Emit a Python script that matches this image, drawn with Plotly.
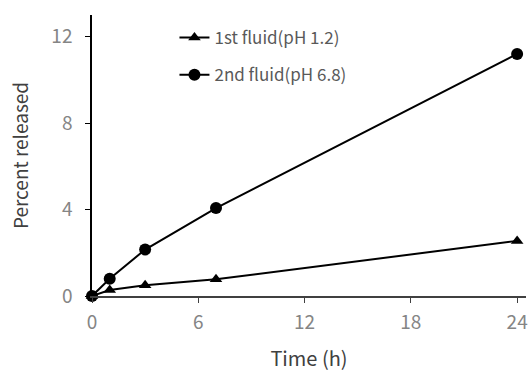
import plotly.graph_objects as go

time_h = [0, 1, 3, 7, 24]
fluid1 = [0, 0.28, 0.5, 0.77, 2.55]
fluid2 = [0, 0.8, 2.15, 4.07, 11.2]
x_ticks = [0, 6, 12, 18, 24]
y_ticks = [0, 4, 8, 12]

FONT = "Noto Sans CJK JP"

fig = go.Figure()
fig.add_trace(go.Scatter(
    x=time_h, y=fluid1, mode="lines+markers", name="1st fluid(pH 1.2)",
    legendgroup="a",
    line=dict(color="black", width=2),
    marker=dict(symbol="triangle-up", size=11, color="black"),
    cliponaxis=False,
))
fig.add_trace(go.Scatter(
    x=time_h, y=fluid2, mode="lines+markers", name="2nd fluid(pH 6.8)",
    legendgroup="b",
    line=dict(color="black", width=2),
    marker=dict(symbol="circle", size=12, color="black"),
    cliponaxis=False,
))

fig.update_layout(
    width=529, height=372,
    margin=dict(l=92, r=1, t=15, b=76),
    paper_bgcolor="white", plot_bgcolor="white",
    font=dict(family=FONT, size=17, color="#595959"),
    showlegend=True,
    legend=dict(
        x=0.19, y=0.982, xanchor="left", yanchor="top",
        bgcolor="rgba(0,0,0,0)", itemwidth=30,
        font=dict(size=17, color="#595959"),
        tracegroupgap=12,
    ),
    xaxis=dict(
        range=[0, 24.5], tickvals=x_ticks, ticks="outside", ticklen=5,
        tickcolor="#404040", showline=True, linecolor="#404040", linewidth=1.5,
        showgrid=False, zeroline=False, ticklabelstandoff=3,
        ticklabeloverflow="allow",
        tickfont=dict(size=19, color="#858585"),
        title=dict(text="Time (h)", font=dict(size=20, color="#404040"), standoff=20),
    ),
    yaxis=dict(
        range=[0, 13], tickvals=y_ticks, ticks="outside", ticklen=5,
        tickcolor="black", showline=True, linecolor="black", linewidth=1.5,
        showgrid=False, zeroline=False, ticklabelstandoff=9,
        tickfont=dict(size=19, color="#858585"),
        title=dict(text="Percent released", font=dict(size=19, color="#404040"), standoff=18),
    ),
)

fig.write_html("out.html", config={"displayModeBar": False},
               post_script="document.body.style.margin='0';")
